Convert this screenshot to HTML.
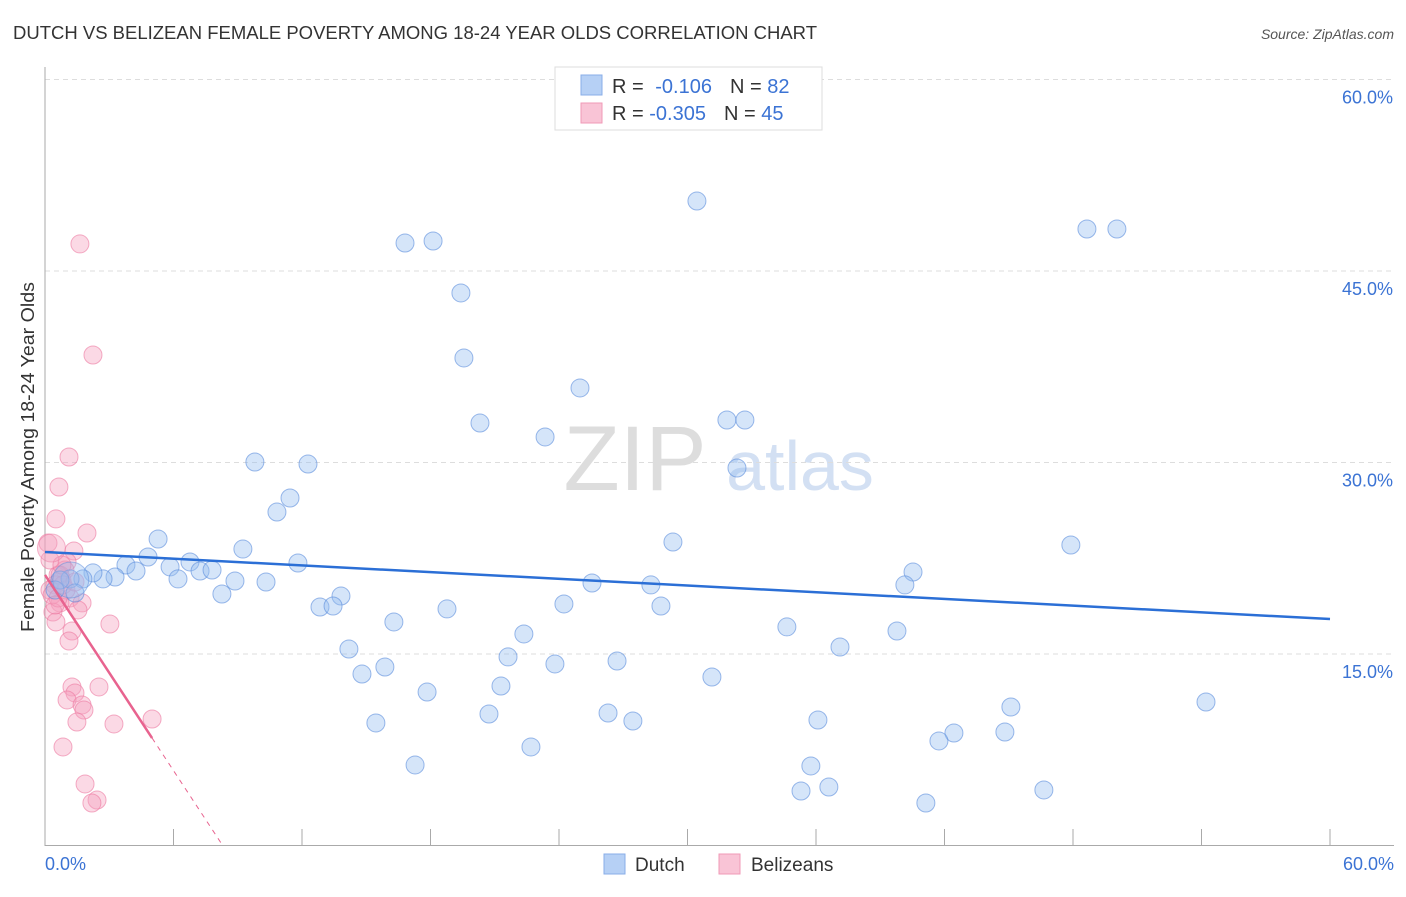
<!DOCTYPE html>
<html><head><meta charset="utf-8"><style>
body{margin:0;background:#fff;font-family:"Liberation Sans",sans-serif;}
svg text{font-family:"Liberation Sans",sans-serif;}
</style></head><body>
<svg id="chart" width="1406" height="892">
<text x="13" y="39" font-size="18" fill="#333" textLength="804" lengthAdjust="spacingAndGlyphs">DUTCH VS BELIZEAN FEMALE POVERTY AMONG 18-24 YEAR OLDS CORRELATION CHART</text>
<text x="1394" y="39" font-size="14" fill="#555" font-style="italic" text-anchor="end">Source: ZipAtlas.com</text>
<text transform="translate(34,457) rotate(-90)" font-size="18" fill="#333" text-anchor="middle" textLength="350" lengthAdjust="spacingAndGlyphs">Female Poverty Among 18-24 Year Olds</text>
<g><text x="635" y="490" font-size="92" fill="#ddd" font-family="Liberation Serif" text-anchor="middle">ZIP</text><text x="800" y="490" font-size="70" fill="#d3e0f3" text-anchor="middle">atlas</text></g>
<g id="grid"></g><g id="marks"></g>
<g>
<rect x="555" y="67" width="267" height="63" fill="#fff" stroke="#ddd"/>
<rect x="581" y="75" width="21" height="20" fill="#b6d0f5" stroke="#88aee8"/>
<rect x="581" y="103" width="21" height="20" fill="#f9c4d6" stroke="#f09ab7"/>
<text x="612" y="93" font-size="20" fill="#333">R = <tspan fill="#3b73d4" dx="6">-0.106</tspan><tspan dx="18" fill="#333">N = </tspan><tspan fill="#3b73d4">82</tspan></text>
<text x="612" y="120" font-size="20" fill="#333">R = <tspan fill="#3b73d4">-0.305</tspan><tspan dx="18" fill="#333">N = </tspan><tspan fill="#3b73d4">45</tspan></text>
</g>
<g>
<rect x="604" y="854" width="21" height="20" fill="#b6d0f5" stroke="#88aee8"/>
<text x="635" y="871" font-size="19" fill="#333">Dutch</text>
<rect x="719" y="854" width="21" height="20" fill="#f9c4d6" stroke="#f09ab7"/>
<text x="751" y="871" font-size="19" fill="#333">Belizeans</text>
</g>
</svg>
<script>
const yTicks=[15,30,45,60];
const yTickLabels=["15.0%","30.0%","45.0%","60.0%"];
const xTicks=[0,6,12,18,24,30,36,42,48,54,60];
const dutchX=[30.44,48.65,50.05,16.81,18.12,19.42,19.56,24.98,20.31,23.35,31.84,32.68,32.31,9.80,12.28,11.44,10.83,5.28,9.24,4.81,3.78,6.77,5.84,4.25,6.21,7.24,7.80,8.87,10.32,11.81,8.26,3.27,2.71,2.24,1.77,1.17,0.70,0.47,1.40,29.32,47.90,40.53,40.15,25.54,28.29,13.82,12.84,13.45,18.77,24.23,28.76,16.29,34.64,39.78,22.36,14.19,37.12,21.62,15.87,26.71,23.81,14.80,31.14,17.84,21.29,15.45,20.73,26.29,27.45,36.09,45.10,54.21,42.44,41.74,44.82,22.69,17.28,35.76,35.30,36.60,41.13,46.64];
const dutchY=[50.48,48.29,48.29,47.19,47.35,43.28,38.19,35.84,33.09,32.0,33.33,33.33,29.57,30.04,29.88,27.22,26.12,24.01,23.22,22.60,21.97,22.21,21.82,21.50,20.88,21.50,21.58,20.72,20.64,22.13,19.70,21.03,20.88,21.35,20.88,20.88,20.80,20.01,19.78,23.77,23.54,21.42,20.41,20.56,20.41,19.54,18.68,18.76,18.53,18.92,18.76,17.51,17.12,16.80,16.57,15.39,15.55,14.77,13.98,14.45,14.22,13.43,13.20,12.02,12.49,9.60,10.30,10.38,9.75,9.83,10.85,11.24,8.81,8.19,8.89,7.72,6.31,6.23,4.27,4.58,3.33,4.35];
const belX=[1.63,2.24,1.12,0.65,0.51,1.96,0.14,1.35,1.03,0.93,0.61,0.79,0.47,0.23,1.17,1.73,0.70,0.37,3.03,0.51,1.26,1.12,1.26,2.52,1.40,1.03,1.73,1.82,5.00,1.49,3.22,0.84,1.87,2.43,2.19,0.70,0.33,0.98,0.23,1.54,0.79,0.61,0.47,0.84,1.40];
const belY=[47.12,38.42,30.43,28.08,25.58,24.48,23.69,23.07,22.21,21.58,21.19,20.80,20.41,20.01,19.39,19.00,19.00,18.29,17.35,17.51,16.80,16.02,12.42,12.42,11.95,11.40,11.01,10.61,9.91,9.67,9.52,7.72,4.82,3.56,3.33,21.19,19.62,20.01,22.36,18.45,21.97,19.39,18.84,20.41,20.64];
const dutchTrend=[22.99,17.74];
const belTrend=[21.19,-2.554];
const X0=45,X1=1330,Y0=845.5,Y60=79.5;
const sx=v=>X0+v/60*(X1-X0), sy=v=>Y0-v/60*(Y0-Y60);
const NS="http://www.w3.org/2000/svg";
function mk(p,t,a){const e=document.createElementNS(NS,t);for(const k in a)e.setAttribute(k,a[k]);p.appendChild(e);return e;}
const g=document.getElementById('grid'),m=document.getElementById('marks');
yTicks.forEach((t,i)=>{const l=mk(g,'line',{x1:X0,x2:1394,y1:sy(t),y2:sy(t),stroke:'#ddd','stroke-dasharray':'5,4'});


const tx=mk(g,'text',{x:1393,y:sy(t)+24,'font-size':18,fill:'#3b73d4','text-anchor':'end'});tx.textContent=yTickLabels[i];

});
const ax=mk(g,'line',{x1:X0,x2:X0,y1:67,y2:846,stroke:'#aaa'});


const bx=mk(g,'line',{x1:X0,x2:1394,y1:845.5,y2:845.5,stroke:'#aaa'});


xTicks.forEach(t=>{const l=mk(g,'line',{x1:sx(t),x2:sx(t),y1:829,y2:846,stroke:'#aaa'});

});
const xl=mk(g,'text',{x:45,y:870,'font-size':18,fill:'#3b73d4'});xl.textContent='0.0%';


const xr=mk(g,'text',{x:1394,y:870,'font-size':18,fill:'#3b73d4','text-anchor':'end'});xr.textContent='60.0%';


belX.forEach((x,i)=>{const c=mk(m,'circle',{cx:sx(x),cy:sy(belY[i]),r:9,fill:'rgba(246,160,190,0.4)',stroke:'rgba(236,120,160,0.6)','stroke-width':1});

});
dutchX.forEach((x,i)=>{const c=mk(m,'circle',{cx:sx(x),cy:sy(dutchY[i]),r:9,fill:'rgba(150,190,240,0.4)',stroke:'rgba(90,140,220,0.6)','stroke-width':1});

});
const big=mk(m,'circle',{cx:sx(0.3),cy:sy(23.3),r:14,fill:'rgba(246,160,190,0.4)',stroke:'rgba(236,120,160,0.5)'});


const big2=mk(m,'circle',{cx:sx(1.2),cy:sy(20.8),r:18,fill:'rgba(150,190,240,0.35)',stroke:'rgba(90,140,220,0.5)'});


const dl=mk(m,'line',{x1:sx(0),y1:sy(dutchTrend[0]),x2:sx(60),y2:sy(dutchTrend[1]),stroke:'#2b6fd6','stroke-width':2.5});


const bEnd=5,bZero=-belTrend[0]/belTrend[1];
const bl=mk(m,'line',{x1:sx(0),y1:sy(belTrend[0]),x2:sx(bEnd),y2:sy(belTrend[0]+belTrend[1]*bEnd),stroke:'#e8638f','stroke-width':2.5});


const bd=mk(m,'line',{x1:sx(bEnd),y1:sy(belTrend[0]+belTrend[1]*bEnd),x2:sx(bZero),y2:sy(0),stroke:'#e8638f','stroke-width':1,'stroke-dasharray':'5,5'});


</script>
</body></html>
